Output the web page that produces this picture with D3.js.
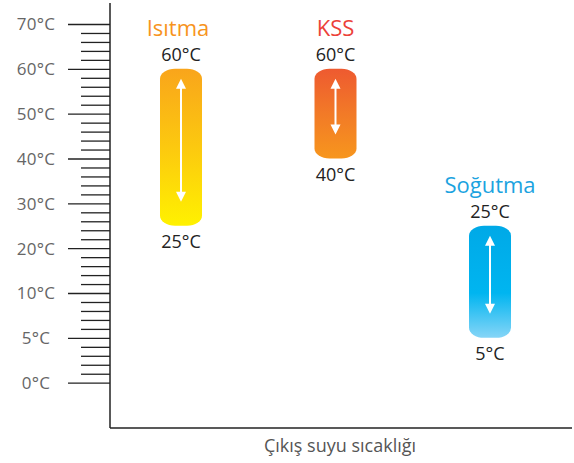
<!DOCTYPE html>
<html>
<head>
<meta charset="utf-8">
<script src="https://cdn.jsdelivr.net/npm/d3@7/dist/d3.min.js"></script>
<style>
  html, body { margin: 0; padding: 0; background: #fff; }
  svg { display: block; font-family: "Open Sans", "Noto Sans", sans-serif; }
</style>
</head>
<body>
<svg id="chart" width="574" height="463"></svg>
<script>
// Operating ranges of leaving water temperature per mode
const modes = ["Isıtma", "KSS", "Soğutma"];
const minTemps = [25, 40, 5];
const maxTemps = [60, 60, 25];
const modeColors = ["#F7941D", "#EC4138", "#1BA3E0"];
const gradientTop = ["#F9A51B", "#EE5A30", "#00A9E7"];
const gradientMid = ["#FCC90F", "#F27A27", "#00B5F0"];
const gradientBottom = ["#FFF100", "#F7961D", "#86D5F7"];

// Axis tick values (unevenly spaced values, evenly spaced on screen)
const tickValues = [0, 5, 10, 20, 30, 40, 50, 60, 70];
const tickLabels = ["0°C", "5°C", "10°C", "20°C", "30°C", "40°C", "50°C", "60°C", "70°C"];
const axisTitle = "Çıkış suyu sıcaklığı";

const svg = d3.select("#chart");
const axisX = 110, axisTop = 3, axisBottom = 428, axisRight = 572;
const yTop = 24, yBottom = 382.7;
const step = (yBottom - yTop) / (tickValues.length - 1);

const y = d3.scaleLinear()
  .domain(tickValues)
  .range(tickValues.map((d, i) => yBottom - i * step));

const x = d3.scalePoint().domain(modes).range([181, 490]);

// Minor ticks: four between each pair of labelled values
const minorValues = [];
for (let i = 0; i < tickValues.length - 1; i++) {
  const a = tickValues[i], b = tickValues[i + 1];
  for (let k = 1; k < 5; k++) minorValues.push(a + (b - a) * k / 5);
}

// Major ticks with labels via d3 axis
const axisG = svg.append("g").attr("transform", `translate(${axisX},0)`);
axisG.call(d3.axisLeft(y).tickValues(tickValues).tickSize(42).tickPadding(0)
  .tickFormat((d, i) => tickLabels[i]));
axisG.select(".domain").remove();
axisG.selectAll(".tick line").attr("stroke", "#222").attr("stroke-width", 1.3);
axisG.selectAll(".tick text")
  .attr("x", -74).attr("text-anchor", "middle")
  .attr("dy", "0.35em")
  .attr("fill", "#666").attr("font-size", 17)
  .attr("font-family", "Open Sans, sans-serif")
  .style("letter-spacing", "0.3px");

// Minor ticks
const minorG = svg.append("g").attr("transform", `translate(${axisX},0)`);
minorG.call(d3.axisLeft(y).tickValues(minorValues).tickSize(29).tickFormat(""));
minorG.select(".domain").remove();
minorG.selectAll(".tick line").attr("stroke", "#222").attr("stroke-width", 1.3);

// Axis lines
svg.append("line").attr("x1", axisX).attr("x2", axisX)
  .attr("y1", axisTop).attr("y2", axisBottom)
  .attr("stroke", "#222").attr("stroke-width", 1.5);
svg.append("line").attr("x1", axisX).attr("x2", axisRight)
  .attr("y1", axisBottom).attr("y2", axisBottom)
  .attr("stroke", "#222").attr("stroke-width", 1.5);

svg.append("text").attr("x", 340).attr("y", 452)
  .attr("text-anchor", "middle").attr("font-size", 18)
  .attr("fill", "#555").text(axisTitle);

// Gradients
const defs = svg.append("defs");
modes.forEach((m, i) => {
  const g = defs.append("linearGradient").attr("id", "grad" + i)
    .attr("x1", 0).attr("y1", 0).attr("x2", 0).attr("y2", 1);
  g.append("stop").attr("offset", "0%").attr("stop-color", gradientTop[i]);
  g.append("stop").attr("offset", i === 2 ? "60%" : "50%").attr("stop-color", gradientMid[i]);
  g.append("stop").attr("offset", "100%").attr("stop-color", gradientBottom[i]);
});

const barW = 42;
const data = modes.map((m, i) => ({ mode: m, lo: minTemps[i], hi: maxTemps[i], i }));

const bars = svg.append("g").selectAll("g").data(data).join("g");

bars.append("rect")
  .attr("x", d => x(d.mode) - barW / 2)
  .attr("y", d => y(d.hi))
  .attr("width", barW)
  .attr("height", d => y(d.lo) - y(d.hi))
  .attr("rx", 15).attr("ry", 10)
  .attr("fill", d => `url(#grad${d.i})`);

// Double-headed arrows
const headL = 10, headW = 5;
bars.each(function (d) {
  const g = d3.select(this);
  const cx = x(d.mode);
  const t = y(d.hi) + 10, b = y(d.lo) - 24;
  g.append("line").attr("x1", cx).attr("x2", cx)
    .attr("y1", t + headL - 1).attr("y2", b - headL + 1)
    .attr("stroke", "#fff").attr("stroke-width", 2);
  g.append("path")
    .attr("d", `M${cx},${t}L${cx - headW},${t + headL}L${cx + headW},${t + headL}Z`)
    .attr("fill", "#fff");
  g.append("path")
    .attr("d", `M${cx},${b}L${cx - headW},${b - headL}L${cx + headW},${b - headL}Z`)
    .attr("fill", "#fff");
});

// Mode titles
bars.append("text")
  .attr("x", d => x(d.mode) - (d.i === 0 ? 3 : 0))
  .attr("y", d => y(d.hi) - 33)
  .attr("text-anchor", "middle").attr("font-size", 22)
  .attr("fill", d => modeColors[d.i])
  .text(d => d.mode);

// Value labels
bars.append("text")
  .attr("x", d => x(d.mode))
  .attr("y", d => y(d.hi) - 8)
  .attr("text-anchor", "middle").attr("font-size", 18)
  .attr("fill", "#222")
  .text(d => d.hi + "°C");

bars.append("text")
  .attr("x", d => x(d.mode))
  .attr("y", d => y(d.lo) + 22)
  .attr("text-anchor", "middle").attr("font-size", 18)
  .attr("fill", "#222")
  .text(d => d.lo + "°C");
</script>
</body>
</html>
